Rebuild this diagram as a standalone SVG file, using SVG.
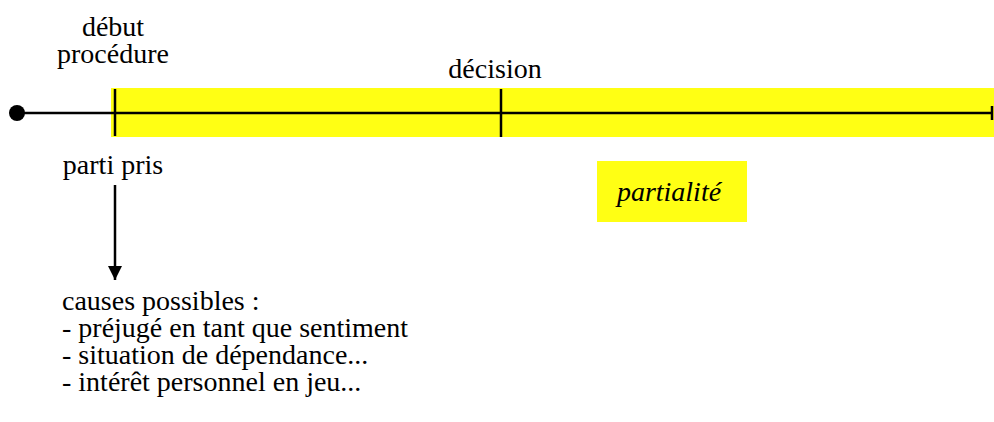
<svg xmlns="http://www.w3.org/2000/svg" width="994" height="422" viewBox="0 0 994 422">
<style>
text{font-family:'Liberation Serif','Times New Roman',serif;font-size:28px;fill:#000}
.c{text-anchor:middle}
.ln{stroke:#000;stroke-width:2.5;fill:none}
.hl{fill:#ffff14}
</style>
<defs>
<marker id="ah" viewBox="0 0 10 10" refX="10" refY="5" markerWidth="14" markerHeight="14" markerUnits="userSpaceOnUse" orient="auto"><path d="M0,0L10,5L0,10z" fill="#000"/></marker>
</defs>
<g id="band"><rect class="hl" x="111" y="88" width="883" height="49"/></g>
<g id="partialite"><rect class="hl" x="597" y="161" width="150" height="61"/><text x="669" y="201" class="c" font-style="italic">partialité</text></g>
<g id="connectors">
<line class="ln" x1="17" y1="113" x2="993" y2="113"/>
<line class="ln" x1="992" y1="106" x2="992" y2="120"/>
<line class="ln" x1="115" y1="89" x2="115" y2="136"/>
<line class="ln" x1="501" y1="89" x2="501" y2="137"/>
<line class="ln" x1="115" y1="185" x2="115" y2="280" stroke-width="2" marker-end="url(#ah)"/>
</g>
<g id="start"><circle cx="17" cy="113" r="8" fill="#000"/></g>
<g id="debut"><text x="113" y="36" class="c">début</text><text x="113" y="63" class="c">procédure</text></g>
<g id="decision"><text x="495" y="78" class="c">décision</text></g>
<g id="parti"><text x="113" y="174" class="c">parti pris</text></g>
<g id="causes">
<text x="62" y="310">causes possibles :</text>
<text x="62" y="337">- préjugé en tant que sentiment</text>
<text x="62" y="364">- situation de dépendance...</text>
<text x="62" y="391">- intérêt personnel en jeu...</text>
</g>
</svg>
